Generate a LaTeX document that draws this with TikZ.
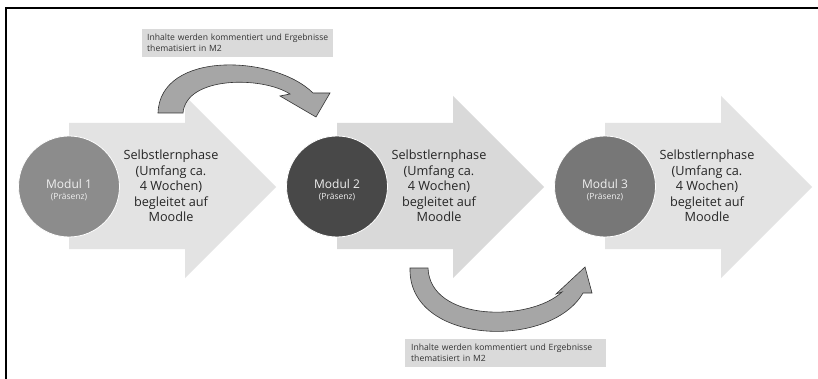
\documentclass[tikz,border=0pt]{standalone}
\usepackage{fontspec}
\setmainfont{Open Sans}
\usepackage{tikz}
\usetikzlibrary{positioning}
\definecolor{phaselight}{HTML}{E3E3E3}
\definecolor{phasedark}{HTML}{D9D9D9}
\definecolor{curvegrey}{HTML}{A6A6A6}
\definecolor{boxgrey}{HTML}{DADADA}
\definecolor{modulA}{HTML}{8C8C8C}
\definecolor{modulB}{HTML}{484848}
\definecolor{modulC}{HTML}{777777}
\tikzstyle{curved} = [fill=curvegrey,draw=black!80,line width=0.6pt,line join=miter]
\tikzset{modul/.style={
    circle, draw=white, line width=0.8pt, minimum size=101pt, inner sep=0pt,
  },
  modultext/.style={align=center, text=white!94!black, font=\fontsize{12}{13}\selectfont},
  phasetext/.style={align=center, text=black!85, font=\fontsize{12.7}{15.5}\selectfont},
  infobox/.style={fill=boxgrey, align=left, text=black!80, inner xsep=5pt,
    minimum height=28pt, font=\fontsize{8.6}{11}\selectfont},
}
\def\phasearrow{(69,123) -- (185,123) -- (185,96) -- (276,187) -- (185,278) -- (185,249) -- (69,249) -- cycle}
\def\infotext{\mbox{Inhalte werden kommentiert und Ergebnisse}\\thematisiert in M2}

\begin{document}
\begin{tikzpicture}[x=1pt,y=-1pt]
        \useasboundingbox (0,0) rectangle (818,379);
        \fill[white] (0,0) rectangle (818,379);
        \draw[line width=1.3pt] (6,379) -- (6,8) -- (818,8);

        % the three phases
        \foreach \i/\s/\c/\m in {1/0/phaselight/modulA, 2/268/phasedark/modulB, 3/536/phaselight/modulC} {
            \fill[\c, shift={(\s,0)}] \phasearrow;
            \node[modul, fill=\m] (modul\i) at ({69+\s},186.5) {};
            \node[modultext] (modultext\i) at ([yshift=-4pt]modul\i.center) {Modul \i\\[-2pt]{\fontsize{8.5}{9}\selectfont(Präsenz)}};
            \node[phasetext] (phase\i) at ({171+\s},186) {Selbstlernphase\\(Umfang ca.\\4 Wochen)\\begleitet auf\\Moodle};
        }

        % feedback arrows
        \draw[curved] (158,113) .. controls (160,50) and (275,55) .. (313,93) -- (330,93) -- (316,117)
            -- (280,96) -- (290,94) .. controls (262,76) and (186,76) .. (183,113) -- cycle;
        \draw[curved] (410,268) -- (428,268) .. controls (430,322) and (530,322) .. (562,292) -- (556,294)
            -- (585,267) -- (592,293) -- (583,293) .. controls (550,350) and (408,345) .. (410,268) -- cycle;

        \node[infobox, text width=181pt, anchor=north west] (infotop) at (142,29) {\infotext};
        \node[infobox, text width=189pt, inner xsep=6pt, anchor=north west] (infobottom) at (405,339) {\infotext};
    \end{tikzpicture}
\end{document}
